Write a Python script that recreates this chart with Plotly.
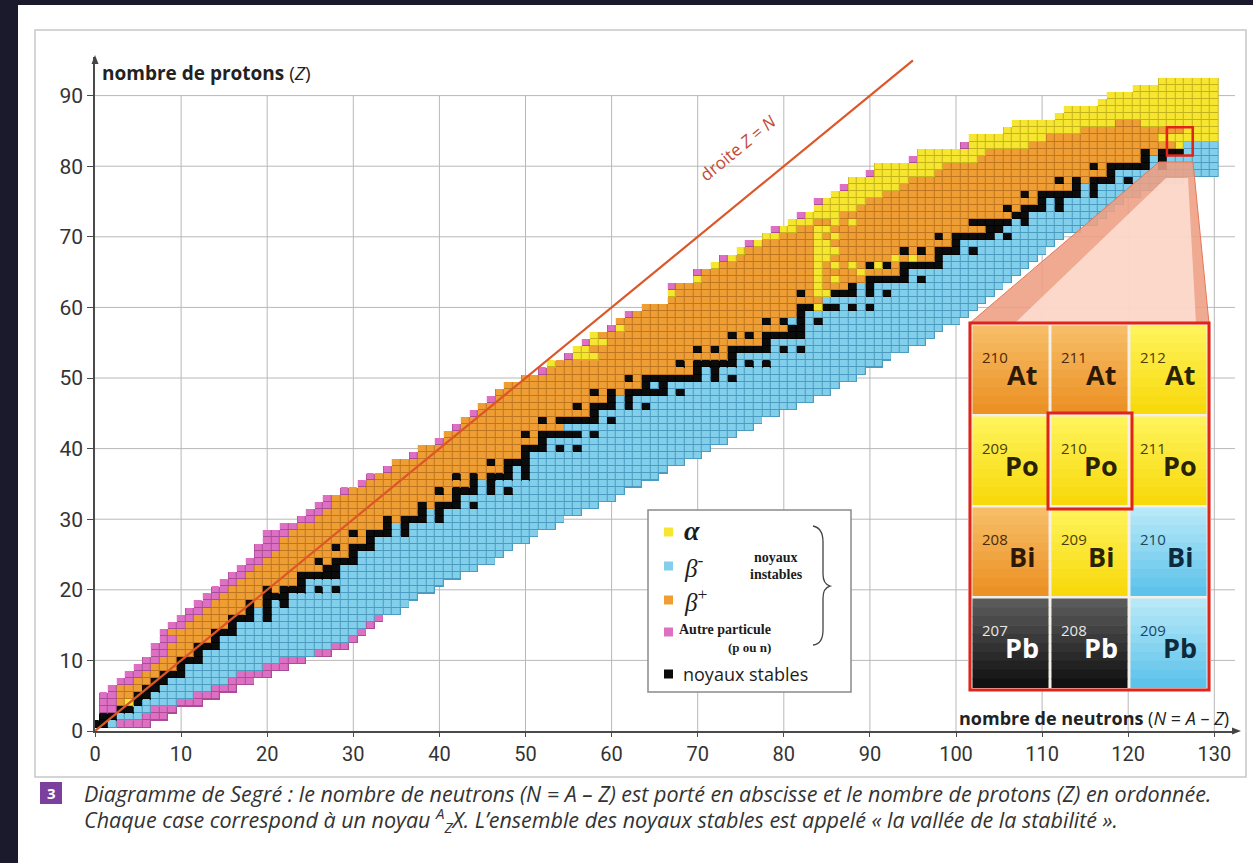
import math
import plotly.graph_objects as go

# ---------------- data ----------------
Z_VALUES = list(range(1, 93))
# lightest N drawn for each Z (proton-rich edge)
N_MIN = [0, 1, 1, 1, 1, 2, 3, 4, 5, 6,
         7, 7, 8, 8, 9, 10, 11, 12, 13, 14,
         15, 16, 17, 18, 19, 19, 20, 20, 22, 24,
         25, 26, 27, 29, 31, 32, 34, 35, 37, 38,
         40, 41, 42, 43, 44, 45, 46, 47, 48, 50,
         52, 53, 55, 56, 57, 58, 60, 61, 62, 64,
         67, 67, 67, 70, 70, 72, 73, 75, 76, 78,
         79, 81, 82, 84, 84, 86, 87, 88, 90, 91,
         95, 96, 101, 102, 106, 107, 112, 113, 117, 118,
         121, 124]
# heaviest N drawn for each Z (neutron-rich edge)
N_MAX = [6, 8, 9, 12, 14, 16, 18, 20, 22, 24,
         27, 29, 30, 31, 32, 33, 35, 36, 37, 39,
         40, 42, 44, 46, 47, 48, 50, 51, 53, 54,
         56, 58, 60, 61, 63, 65, 66, 68, 70, 71,
         73, 74, 76, 77, 79, 81, 83, 85, 86, 88,
         89, 91, 92, 94, 96, 97, 98, 100, 101, 102,
         103, 104, 105, 106, 107, 108, 109, 110, 111, 112,
         114, 116, 117, 118, 119, 121, 123, 126, 130, 130,
         130, 130, 130, 130, 130, 130, 130, 130, 130, 130,
         130, 130]
# stable nuclei (black cells): N values for each Z
STABLE_N = [[0, 1], [1, 2], [3, 4], [5], [5, 6], [6, 7], [7, 8], [8, 9, 10], [10], [10, 11, 12],
            [12], [12, 13, 14], [14], [14, 15, 16], [16], [16, 17, 18, 20], [18, 20], [18, 20, 22], [20, 21, 22], [20, 22, 23, 24, 26, 28],
            [24], [24, 25, 26, 27, 28], [27, 28], [26, 28, 29, 30], [30], [28, 30, 31, 32], [32], [30, 32, 33, 34, 36], [34, 36], [34, 36, 37, 38, 40],
            [38, 40], [38, 40, 41, 42, 44], [42], [40, 42, 43, 44, 46, 48], [44, 46], [42, 44, 46, 47, 48, 50], [48, 50], [46, 48, 49, 50], [50], [50, 51, 52, 54, 56],
            [52], [50, 52, 53, 54, 55, 56, 58], [], [52, 54, 55, 56, 57, 58, 60], [58], [56, 58, 59, 60, 62, 64], [60, 62], [58, 60, 62, 63, 64, 65, 66, 68], [64, 66], [62, 64, 65, 66, 67, 68, 69, 70, 72, 74],
            [70, 72], [68, 70, 71, 72, 73, 74, 76, 78], [74], [70, 72, 74, 75, 76, 77, 78, 80, 82], [78], [74, 76, 78, 79, 80, 81, 82], [81, 82], [78, 80, 82, 84], [82], [82, 83, 85, 86, 88, 90],
            [], [82, 86, 87, 88, 90, 92], [88, 90], [90, 91, 92, 93, 94, 96], [94], [90, 92, 94, 95, 96, 97, 98], [98], [94, 96, 98, 99, 100, 102], [100], [98, 100, 101, 102, 103, 104, 106],
            [104, 105], [102, 103, 104, 105, 106, 108], [107, 108], [106, 108, 109, 110, 112], [110, 112], [108, 110, 111, 112, 113, 114, 116], [114, 116], [112, 114, 116, 117, 118, 120], [118], [116, 118, 119, 120, 121, 122, 124],
            [122, 124], [122, 124, 125, 126], [], [], [], [], [], [], [], [],
            [], []]
# first beta-minus N for rows without stable nuclei
VALLEY_SPLIT = {43: 55, 61: 85, 83: 127, 84: 131, 85: 131, 86: 131, 87: 131,
                88: 131, 89: 131, 90: 131, 91: 131, 92: 131}
# pink cells ("autre particule") at the proton-rich / neutron-rich ends
PINK_P = [0, 0, 2, 2, 2, 1, 2, 2, 2, 2,
          2, 2, 2, 1, 2, 2, 2, 2, 2, 2,
          2, 2, 2, 2, 2, 3, 2, 3, 2, 2,
          2, 2, 1, 1, 1, 1, 1, 0, 1, 0,
          1, 0, 1, 0, 1, 0, 1, 0, 0, 0,
          1, 0, 1, 0, 1, 0, 1, 0, 1, 0,
          0, 0, 1, 0, 1, 0, 1, 0, 1, 0,
          1, 0, 1, 0, 1, 0, 1, 0, 1, 0,
          1, 0, 1, 0, 0, 0, 0, 0, 0, 0,
          0, 0]
PINK_N = [4, 3, 3, 3, 3, 3, 3, 4, 3, 3,
          2, 2, 1, 1, 1, 1, 0, 0, 0, 0,
          0, 0, 0, 0, 0, 0, 0, 0, 0, 0,
          0, 0, 0, 0, 0, 0, 0, 0, 0, 0,
          0, 0, 0, 0, 0, 0, 0, 0, 0, 0,
          0, 0, 0, 0, 0, 0, 0, 0, 0, 0,
          0, 0, 0, 0, 0, 0, 0, 0, 0, 0,
          0, 0, 0, 0, 0, 0, 0, 0, 0, 0,
          0, 0, 0, 0, 0, 0, 0, 0, 0, 0,
          0, 0]
# alpha (yellow) cells next to the proton-rich edge
YELLOW_P = [0] * 50 + [0, 1, 3, 2, 2, 1, 1, 0, 0, 0,
                       0, 1, 0, 1, 0, 1, 1, 1, 1, 2,
                       2, 3, 4, 5, 5, 6, 6, 7, 7, 8,
                       7, 8, 7, 9, 9, 12, 99, 99, 99, 99,
                       99, 99]
# alpha cells from this N up to the edge (heavy nuclei)
YELLOW_RIGHT = {84: 124, 85: 127, 86: 122}
EXTRA_YELLOW = [(4, 4), (84, 58), (84, 60), (84, 62), (85, 62), (84, 63), (84, 64), (86, 64),
                (84, 65), (84, 66), (86, 66), (88, 66), (84, 67), (85, 67), (84, 68), (85, 68),
                (86, 68), (84, 69), (85, 69), (84, 70), (86, 70), (84, 71), (85, 71), (86, 72),
                (88, 72), (89, 65), (91, 66), (93, 67), (95, 67), (126, 83)]

CODE_NAMES = ["alpha", "beta-", "beta+", "autre", "stable"]
FACE = ["#f6e630", "#82cfec", "#ef9e34", "#de70c3", "#0c0c0c"]
EDGE = ["#c4b21a", "#4b9cc0", "#bf7620", "#ab4d96", "#000000"]

# inset tiles (mass number, symbol, colour family)
INSET = [[("210", "At", "o"), ("211", "At", "o"), ("212", "At", "y")],
         [("209", "Po", "y"), ("210", "Po", "y"), ("211", "Po", "y")],
         [("208", "Bi", "o"), ("209", "Bi", "y"), ("210", "Bi", "b")],
         [("207", "Pb", "k"), ("208", "Pb", "k"), ("209", "Pb", "b")]]

X_TICKS = list(range(0, 131, 10))
Y_TICKS = list(range(0, 91, 10))

# ---------------- build the cell matrix ----------------
N_COLS = list(range(0, 131))
Z_ROWS = list(range(0, 93))
grid = [[None] * len(N_COLS) for _ in Z_ROWS]
for i, Z in enumerate(Z_VALUES):
    lo, hi, st = N_MIN[i], N_MAX[i], STABLE_N[i]
    row = {}
    for N in range(lo, hi + 1):
        if N in st:
            row[N] = 5
        elif st:
            if N < st[0]:
                row[N] = 3
            elif N > st[-1]:
                row[N] = 2
            else:
                row[N] = 3 if N < (st[0] + st[-1]) / 2 else 2
        else:
            row[N] = 3 if N < VALLEY_SPLIT[Z] else 2
    start = lo + PINK_P[i]
    for N in range(start, min(start + YELLOW_P[i], hi + 1)):
        if row[N] != 5:
            row[N] = 1
    if Z in YELLOW_RIGHT:
        for N in range(YELLOW_RIGHT[Z], hi + 1):
            if row[N] != 5:
                row[N] = 1
    for (n, zz) in EXTRA_YELLOW:
        if zz == Z and n in row and row[n] != 5:
            row[n] = 1
    for N in range(lo, lo + PINK_P[i]):
        if row[N] != 5:
            row[N] = 4
    for N in range(hi - PINK_N[i] + 1, hi + 1):
        if row[N] != 5:
            row[N] = 4
    for N, c in row.items():
        grid[Z][N] = c


def discrete(colors):
    n = len(colors)
    sc = []
    for k, c in enumerate(colors):
        sc.append([k / n, c])
        sc.append([(k + 1) / n, c])
    return sc


# ---------------- geometry helpers (pixel -> paper) ----------------
L, R, T, B = 95, 18, 57, 132
W, H = 1253, 863
PW, PH = W - L - R, H - T - B


def px(x):
    return (x - L) / PW


def py(y):
    return (H - B - y) / PH


fig = go.Figure()
fig.add_trace(go.Heatmap(x=N_COLS, y=Z_ROWS, z=grid, zmin=0.5, zmax=5.5,
                         colorscale=discrete(EDGE), showscale=False, hoverinfo="skip"))
fig.add_trace(go.Heatmap(x=N_COLS, y=Z_ROWS, z=grid, zmin=0.5, zmax=5.5, xgap=1, ygap=1,
                         colorscale=discrete(FACE), showscale=False, hoverinfo="skip"))
fig.add_trace(go.Scatter(x=[0, 95], y=[0, 95], mode="lines",
                         line=dict(color="#dc5628", width=2.2), hoverinfo="skip",
                         showlegend=False))

DARK = "#1b1a2d"
shapes = []
# dark surround and frame
shapes.append(dict(type="rect", xref="paper", yref="paper", x0=px(0), x1=px(18),
                   y0=py(0), y1=py(863), fillcolor=DARK, line=dict(width=0), layer="below"))
shapes.append(dict(type="rect", xref="paper", yref="paper", x0=px(0), x1=px(1253),
                   y0=py(0), y1=py(5), fillcolor=DARK, line=dict(width=0), layer="below"))
shapes.append(dict(type="rect", xref="paper", yref="paper", x0=px(35), x1=px(1246),
                   y0=py(30), y1=py(777), fillcolor="rgba(0,0,0,0)",
                   line=dict(color="#c8c8c8", width=1.5), layer="below"))
# grid
for v in X_TICKS[1:]:
    shapes.append(dict(type="line", xref="x", yref="y", x0=v, x1=v, y0=0, y1=90,
                       line=dict(color="#b8b8b8", width=1), layer="below"))
for h in Y_TICKS[1:]:
    shapes.append(dict(type="line", xref="x", yref="y", x0=0, x1=132.4, y0=h, y1=h,
                       line=dict(color="#b8b8b8", width=1), layer="below"))


def poly(points):
    return "M " + " L ".join(f"{px(a):.5f},{py(b):.5f}" for a, b in points) + " Z"


# axis arrows
shapes.append(dict(type="path", xref="paper", yref="paper",
                   path=poly([(91.5, 64), (98.5, 64), (95, 55)]), fillcolor="#444",
                   line=dict(width=0)))
shapes.append(dict(type="path", xref="paper", yref="paper",
                   path=poly([(1232, 727.5), (1232, 734.5), (1241, 731)]), fillcolor="#444",
                   line=dict(width=0)))

# zoom triangle
shapes.append(dict(type="path", xref="paper", yref="paper",
                   path=poly([(1159, 162), (1193, 162), (1209, 323), (970, 323)]),
                   fillcolor="rgba(238,158,130,0.88)", line=dict(color="#e3785a", width=1)))
shapes.append(dict(type="path", xref="paper", yref="paper",
                   path=poly([(1166, 178), (1188, 178), (1196, 323), (1015, 323)]),
                   fillcolor="rgba(253,226,214,0.82)", line=dict(width=0)))
# small red box on the chart
shapes.append(dict(type="rect", xref="x", yref="y", x0=124.5, x1=127.5, y0=81.5, y1=85.5,
                   line=dict(color="#e0231b", width=2.5), fillcolor="rgba(0,0,0,0)"))


def lerp(c1, c2, t):
    a = [int(c1[k:k + 2], 16) for k in (1, 3, 5)]
    b = [int(c2[k:k + 2], 16) for k in (1, 3, 5)]
    return "rgb(%d,%d,%d)" % tuple(round(a[k] + (b[k] - a[k]) * t) for k in range(3))


TILE_COL = {"o": ("#f7bd66", "#ec9125", "#4a2a08", "#2b1805"),
            "y": ("#fff35a", "#f7d90c", "#4a3e06", "#2a2204"),
            "b": ("#b6e8f8", "#5ec3ea", "#1c4660", "#0e2a3c"),
            "k": ("#5a5a5a", "#121212", "#e8e8e8", "#ffffff")}
COL_EDGES = [971, 1050, 1129, 1208]
ROW_EDGES = [324, 415, 506, 597, 689]
annotations = []
shapes.append(dict(type="rect", xref="paper", yref="paper", x0=px(968), x1=px(1211),
                   y0=py(322), y1=py(691), fillcolor="#f3efe9", line=dict(width=0)))
for r, row in enumerate(INSET):
    for c, (mass, sym, fam) in enumerate(row):
        x0, x1 = COL_EDGES[c] + 1.5, COL_EDGES[c + 1] - 1.5
        y0, y1 = ROW_EDGES[r] + 1.5, ROW_EDGES[r + 1] - 1.5
        top, bot, mcol, scol = TILE_COL[fam]
        nstr = 10
        for k in range(nstr):
            ya = y0 + (y1 - y0) * k / nstr
            yb = y0 + (y1 - y0) * (k + 1) / nstr
            shapes.append(dict(type="rect", xref="paper", yref="paper", x0=px(x0), x1=px(x1),
                               y0=py(ya), y1=py(yb + 0.6), fillcolor=lerp(top, bot, k / (nstr - 1)),
                               line=dict(width=0)))
        annotations.append(dict(xref="paper", yref="paper", x=px(COL_EDGES[c] + 24),
                                y=py(ROW_EDGES[r] + 33), text=mass,
                                font=dict(family="Open Sans", size=15, color=mcol)))
        annotations.append(dict(xref="paper", yref="paper", x=px(COL_EDGES[c] + 51),
                                y=py(ROW_EDGES[r] + 50), text="<b>" + sym + "</b>",
                                font=dict(family="Open Sans", size=27, color=scol)))
shapes.append(dict(type="rect", xref="paper", yref="paper", x0=px(970), x1=px(1209),
                   y0=py(323), y1=py(690), line=dict(color="#e0231b", width=3),
                   fillcolor="rgba(0,0,0,0)"))
shapes.append(dict(type="rect", xref="paper", yref="paper", x0=px(1048), x1=px(1132),
                   y0=py(413), y1=py(509), line=dict(color="#e0231b", width=3),
                   fillcolor="rgba(0,0,0,0)"))

# legend box
shapes.append(dict(type="rect", xref="paper", yref="paper", x0=px(648), x1=px(851),
                   y0=py(510), y1=py(692), fillcolor="white", line=dict(color="#8a8a8a", width=1.5)))
LEG_Y = [532, 566, 600, 632, 674]
for yy, k in zip(LEG_Y, range(5)):
    shapes.append(dict(type="rect", xref="paper", yref="paper", x0=px(664), x1=px(673),
                       y0=py(yy - 4.5), y1=py(yy + 4.5), fillcolor=FACE[k], line=dict(width=0)))
SERIF = "Liberation Serif, DejaVu Serif, serif"
annotations += [
    dict(x=px(682), y=py(530), text="<b><i>α</i></b>", xanchor="left",
         font=dict(family=SERIF, size=28, color="#1c1c1c")),
    dict(x=px(682), y=py(566), text="<i>β</i><sup>-</sup>", xanchor="left",
         font=dict(family=SERIF, size=25, color="#1c1c1c")),
    dict(x=px(682), y=py(600), text="<i>β</i><sup>+</sup>", xanchor="left",
         font=dict(family=SERIF, size=25, color="#1c1c1c")),
    dict(x=px(677), y=py(629), text="<b>Autre particule</b>", xanchor="left",
         font=dict(family=SERIF, size=14, color="#1c1c1c")),
    dict(x=px(749), y=py(647), text="<b>(p ou n)</b>",
         font=dict(family=SERIF, size=13, color="#1c1c1c")),
    dict(x=px(681), y=py(674), text="noyaux stables", xanchor="left",
         font=dict(family="Open Sans", size=18, color="#1c1c1c")),
    dict(x=px(776), y=py(557), text="<b>noyaux</b>",
         font=dict(family=SERIF, size=14, color="#1c1c1c")),
    dict(x=px(776), y=py(574), text="<b>instables</b>",
         font=dict(family=SERIF, size=14, color="#1c1c1c")),
]


def pt(a, b):
    return f"{px(a):.5f},{py(b):.5f}"


brace = ("M " + pt(813, 526) + " Q " + pt(823, 528) + " " + pt(823, 542) +
         " L " + pt(823, 574) + " Q " + pt(823, 584) + " " + pt(830, 586) +
         " Q " + pt(823, 588) + " " + pt(823, 598) + " L " + pt(823, 630) +
         " Q " + pt(823, 644) + " " + pt(813, 645))
shapes.append(dict(type="path", xref="paper", yref="paper", path=brace,
                   line=dict(color="#444", width=1.3)))

# caption badge
shapes.append(dict(type="rect", xref="paper", yref="paper", x0=px(40), x1=px(62),
                   y0=py(782), y1=py(804), fillcolor="#7b3f9e", line=dict(width=0)))

LABEL_FONT = "Open Sans"
annotations += [
    dict(x=px(100), y=py(73), text="<b>nombre de protons</b> (<i>Z</i>)", xanchor="left",
         font=dict(family=LABEL_FONT, size=19, color="#222")),
    dict(x=px(1231), y=py(718), text="<b>nombre de neutrons</b> (<i>N</i> = <i>A</i> – <i>Z</i>)",
         xanchor="right", font=dict(family=LABEL_FONT, size=18, color="#222")),
    dict(x=px(51), y=py(793), text="<b>3</b>",
         font=dict(family=LABEL_FONT, size=15, color="white")),
    dict(x=px(82), y=py(793),
         text="Diagramme de Segré : le nombre de neutrons (N = A – Z) est porté en abscisse et le nombre de protons (Z) en ordonnée.",
         xanchor="left", font=dict(family="Open Sans", size=21.5, color="#333", style="italic")),
    dict(x=px(82), y=py(820),
         text="Chaque case correspond à un noyau <sup>A</sup><sub>Z</sub>X. L’ensemble des noyaux stables est appelé « la vallée de la stabilité ».",
         xanchor="left", font=dict(family="Open Sans", size=21.5, color="#333", style="italic")),
]
for a in annotations:
    a.setdefault("xref", "paper")
    a.setdefault("yref", "paper")
    a.setdefault("xanchor", "center")
    a.setdefault("yanchor", "middle")
    a["showarrow"] = False

angle = -math.degrees(math.atan((PH / 95.47) / (PW / 132.4)))
annotations.append(dict(xref="x", yref="y", x=74.7, y=82.6, text="droite <i>Z</i> = <i>N</i>",
                        textangle=angle, showarrow=False, xanchor="center", yanchor="middle",
                        font=dict(family="Open Sans", size=17, color="#c24a36")))

fig.update_layout(
    width=W, height=H, autosize=False,
    margin=dict(l=L, r=R, t=T, b=B),
    paper_bgcolor="white", plot_bgcolor="rgba(0,0,0,0)",
    shapes=shapes, annotations=annotations, showlegend=False,
    xaxis=dict(range=[0, PW / 8.61], tickvals=X_TICKS, showgrid=False, zeroline=False,
               showline=True, linecolor="#4a4a4a", linewidth=1.5, ticks="outside",
               ticklen=4, tickcolor="#4a4a4a",
               tickfont=dict(family="Roboto", size=20, color="#333")),
    yaxis=dict(range=[0, PH / 7.06], tickvals=Y_TICKS, showgrid=False, zeroline=False,
               showline=True, linecolor="#4a4a4a", linewidth=1.5, ticks="outside",
               ticklen=6, tickcolor="#4a4a4a",
               tickfont=dict(family="Roboto", size=21, color="#333")),
)

POST = ("document.documentElement.style.margin='0';"
        "document.body.style.margin='0';document.body.style.overflow='hidden';"
        "var d=document.getElementsByClassName('plotly-graph-div')[0];"
        "d.style.position='absolute';d.style.left='0px';d.style.top='0px';")
fig.write_html("out.html", config={"displayModeBar": False}, post_script=POST)
